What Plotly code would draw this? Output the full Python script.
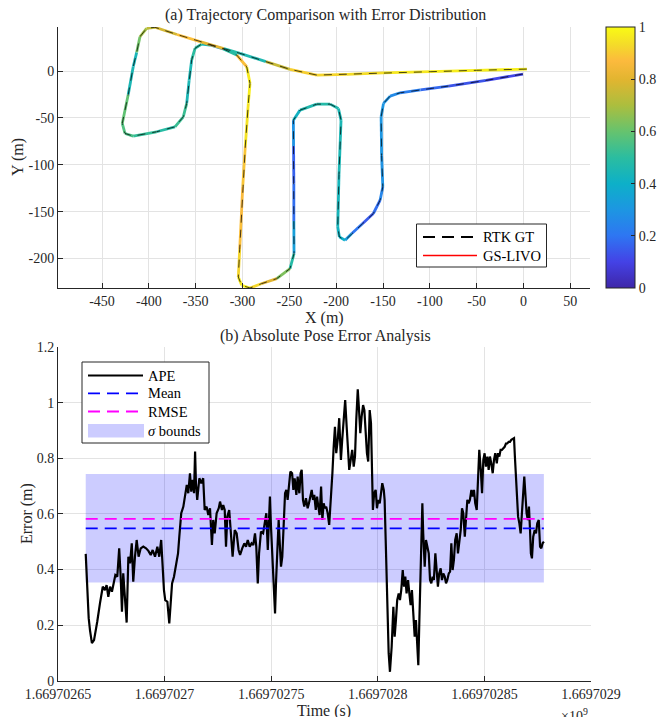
import plotly.graph_objects as go
from plotly.colors import sample_colorscale

W, H = 662, 717
FONT = "Liberation Serif, Times New Roman, serif"
TXT = "#262626"

# ---------------- (a) trajectory data ----------------
traj_x = [-0.6, -40, -80, -110, -131.7, -142.4, -149.5, -152, -151.5, -150.2,
          -153.1, -160.3, -172, -183.3, -190.5, -196.6, -198.3, -197, -194.8, -197.6,
          -206.5, -220.7, -238.6, -245.7, -245.5, -245.2, -245.2, -245, -249.3, -263.5,
          -280, -292, -300.9, -304.5, -303, -301.5, -299.8, -297, -293.8, -292,
          -295.5, -306.2, -320.5, -334.7, -343.6, -350.7, -354.3, -357, -359.6, -363.2,
          -372.1, -391.7, -416.7, -425.5, -428.4, -422, -416.7, -413, -409.5, -402.4,
          -393.5, -370, -345.4, -320, -302.7, -275, -249.3, -220.7, -188.7, -150,
          -99.7, -50, 3.6]
traj_y = [-3.2, -10, -16, -20, -23.2, -26.7, -34.5, -48.8, -90, -123.6,
          -137.8, -152, -163, -173.4, -180.6, -177, -166.3, -110, -52.4, -39.9,
          -35.3, -35.3, -41.7, -52.4, -80, -120, -160, -194.8, -210.8, -221.5,
          -227, -231.5, -228.6, -219.8, -190, -160, -123.6, -80, -34.5, -13.1,
          4.6, 17.1, 23.5, 27.8, 28.8, 24.3, 11.8, -10, -34.5, -48.8,
          -59.5, -64.8, -69.4, -66.6, -55.9, -25, 4.6, 20, 36.6, 45.6,
          46.7, 39, 31.3, 24, 18.9, 10, 1.8, -4.3, -3.5, -2,
          -0.7, 0.8, 2.1]
traj_err = [0.1, 0.12, 0.15, 0.2, 0.25, 0.28, 0.3, 0.3, 0.3, 0.28,
            0.22, 0.15, 0.15, 0.25, 0.38, 0.42, 0.42, 0.45, 0.45, 0.45,
            0.48, 0.48, 0.45, 0.38, 0.2, 0.12, 0.25, 0.42, 0.55, 0.72,
            0.88, 0.97, 0.97, 0.96, 0.88, 0.88, 0.85, 0.93, 0.97, 0.97,
            0.96, 0.8, 0.2, 0.4, 0.5, 0.5, 0.5, 0.4, 0.5, 0.55,
            0.5, 0.48, 0.55, 0.55, 0.58, 0.6, 0.3, 0.58, 0.65, 0.72,
            0.75, 0.8, 0.96, 0.65, 0.32, 0.6, 0.9, 0.92, 0.92, 0.95,
            0.97, 0.97, 0.98]
gt_x = list(traj_x)
gt_y = list(traj_y)

xa_ticks = [-450, -400, -350, -300, -250, -200, -150, -100, -50, 0, 50]
xa_labels = ["-450", "-400", "-350", "-300", "-250", "-200", "-150", "-100", "-50", "0", "50"]
ya_ticks = [-200, -150, -100, -50, 0]
ya_labels = ["-200", "-150", "-100", "-50", "0"]
cb_ticks = [0, 0.2, 0.4, 0.6, 0.8, 1]
cb_labels = ["0", "0.2", "0.4", "0.6", "0.8", "1"]

# ---------------- (b) APE data ----------------
t0 = 1669702650
ape_t = [13.0, 13.7, 14.4, 15.0, 15.9, 16.9, 17.8, 18.4, 19.7, 21.0,
         22.0, 22.8, 23.6, 24.4, 25.3, 25.9, 26.9, 27.8, 28.7, 29.4,
         30.0, 30.6, 31.4, 32.2, 33.0, 33.8, 34.6, 35.3, 36.1, 36.9,
         37.8, 38.8, 40.0, 41.3, 42.4, 43.5, 44.4, 45.5, 46.6, 47.5,
         48.4, 49.1, 49.7, 50.3, 51.3, 52.2, 52.9, 53.5, 54.4, 55.3,
         56.3, 56.9, 57.8, 58.8, 59.7, 60.4, 61.1, 61.9, 62.5, 63.2,
         63.8, 64.3, 64.7, 65.3, 66.3, 67.2, 68.1, 68.8, 69.7, 70.5,
         71.3, 72.2, 72.8, 73.5, 74.4, 75.4, 76.0, 76.9, 77.5, 78.2,
         78.8, 79.4, 80.3, 81.0, 81.9, 82.9, 83.8, 84.7, 85.4, 86.4,
         87.4, 88.2, 89.0, 89.9, 90.8, 91.6, 92.4, 93.0, 93.7, 94.3,
         95.2, 96.2, 97.1, 97.7, 98.4, 99.0, 99.4, 99.9, 100.5, 101.2,
         101.8, 102.3, 102.9, 103.5, 104.1, 104.6, 105.2, 106.0, 106.5, 107.1,
         107.7, 108.3, 109.0, 109.8, 110.4, 111.0, 111.8, 112.4, 113.2, 113.8,
         114.3, 114.9, 115.5, 116.3, 117.1, 117.7, 118.3, 119.0, 119.6, 120.2,
         120.9, 121.5, 122.1, 122.7, 123.4, 124.0, 124.6, 125.2, 125.8, 126.5,
         127.2, 128.0, 128.7, 129.3, 129.9, 130.5, 131.2, 131.9, 132.7, 133.3,
         134.1, 134.7, 135.4, 136.0, 136.6, 137.3, 138.0, 138.7, 139.3, 139.9,
         140.6, 141.2, 141.8, 142.4, 143.1, 143.7, 144.3, 144.9, 145.5, 146.2,
         146.8, 147.3, 147.7, 148.3, 149.0, 149.6, 150.2, 150.9, 151.5, 152.1,
         152.8, 153.2, 153.7, 154.2, 154.6, 155.1, 155.7, 156.5, 157.3, 157.9,
         158.5, 159.1, 159.8, 160.4, 161.0, 161.7, 162.3, 162.9, 163.5, 164.2,
         164.8, 165.4, 166.0, 166.6, 167.3, 167.9, 168.5, 169.0, 169.5, 169.9,
         170.4, 170.9, 171.3, 172.0, 172.6, 173.2, 173.9, 174.5, 175.1, 175.7,
         176.3, 177.0, 177.6, 178.2, 178.8, 179.5, 180.1, 180.7, 181.4, 182.0,
         182.6, 183.3, 183.9, 184.5, 185.1, 185.7, 186.3, 187.0, 187.6, 188.2,
         188.9, 189.5, 190.1, 190.8, 191.4, 192.0, 192.6, 193.2, 193.9, 194.5,
         195.1, 195.7, 196.4, 197.0, 197.6, 198.3, 198.9, 199.5, 200.1, 200.7,
         201.4, 202.0, 202.6, 203.2, 203.9, 204.5, 205.1, 205.8, 206.4, 207.0,
         207.6, 208.2, 208.9, 209.5, 210.1, 210.7, 211.4, 212.0, 212.6, 213.3,
         213.9, 214.3, 214.8, 215.3, 215.8, 216.4, 217.0, 217.6, 218.2, 218.7,
         219.2, 219.8, 220.4, 220.9, 221.4, 221.8, 222.3, 222.9, 223.6, 224.2,
         224.8, 225.5, 226.1, 226.7, 227.3, 227.9]
ape_v = [.456, .302, .225, .182, .135, .146, .182, .212, .279, .338,
         .326, .344, .302, .338, .320, .344, .380, .374, .476, .374,
         .248, .386, .278, .209, .446, .422, .494, .356, .446, .506,
         .446, .476, .482, .476, .467, .452, .470, .446, .482, .446,
         .506, .398, .326, .290, .284, .206, .302, .350, .374, .422,
         .458, .518, .602, .626, .662, .704, .674, .746, .680, .722,
         .674, .824, .710, .650, .728, .710, .728, .614, .626, .596,
         .620, .488, .578, .530, .602, .620, .644, .614, .632, .614,
         .482, .590, .614, .542, .446, .542, .530, .470, .452, .476,
         .494, .482, .506, .482, .494, .488, .530, .482, .350, .458,
         .536, .530, .584, .602, .470, .578, .662, .554, .458, .338,
         .242, .362, .506, .578, .482, .410, .446, .578, .674, .686,
         .650, .698, .752, .746, .686, .728, .668, .734, .674, .746,
         .758, .650, .626, .656, .620, .638, .668, .686, .650, .668,
         .614, .662, .626, .596, .698, .578, .638, .620, .626, .602,
         .560, .650, .746, .841, .913, .818, .866, .944, .794, .866,
         .938, 1.009, .913, .806, .758, .794, .830, .770, .806, .938,
         1.048, .973, .890, .949, .991, .973, .890, .818, .788, .973,
         .926, .782, .614, .674, .686, .620, .650, .638, .686, .710,
         .686, .650, .506, .362, .218, .099, .032, .122, .266, .158,
         .218, .290, .314, .290, .326, .398, .338, .374, .314, .362,
         .314, .272, .326, .254, .158, .218, .146, .056, .218, .374,
         .518, .638, .530, .410, .506, .482, .458, .362, .350, .374,
         .362, .458, .374, .338, .386, .404, .362, .386, .374, .350,
         .362, .386, .392, .494, .398, .434, .506, .530, .458, .506,
         .542, .620, .602, .518, .602, .650, .638, .650, .686, .662,
         .686, .638, .614, .698, .830, .758, .674, .794, .818, .770,
         .806, .758, .806, .782, .746, .794, .818, .782, .818, .806,
         .830, .830, .836, .841, .853, .853, .859, .859, .866, .868,
         .872, .806, .734, .662, .590, .566, .530, .602, .698, .734,
         .674, .602, .578, .626, .542, .458, .440, .518, .542, .530,
         .566, .578, .482, .476, .494, .500]
assert len(ape_t) == len(ape_v)
ape_mean = 0.548
ape_rmse = 0.582
ape_std = 0.195

xb_ticks = [1669702650, 1669702700, 1669702750, 1669702800, 1669702850, 1669702900]
xb_labels = ["1.66970265", "1.6697027", "1.66970275", "1.6697028", "1.66970285", "1.6697029"]
yb_ticks = [0, 0.2, 0.4, 0.6, 0.8, 1.0, 1.2]
yb_labels = ["0", "0.2", "0.4", "0.6", "0.8", "1", "1.2"]

parula = [
    [0.0, "rgb(62,38,168)"], [0.1, "rgb(68,66,230)"], [0.2, "rgb(46,118,242)"],
    [0.3, "rgb(29,150,226)"], [0.4, "rgb(13,176,200)"], [0.5, "rgb(43,189,160)"],
    [0.6, "rgb(102,195,110)"], [0.7, "rgb(172,190,62)"], [0.8, "rgb(226,181,48)"],
    [0.87, "rgb(252,186,61)"], [0.93, "rgb(244,218,42)"], [1.0, "rgb(249,251,20)"],
]

fig = go.Figure()

# ---- (a) colored estimated trajectory ----
for i in range(len(traj_x) - 1):
    c = sample_colorscale(parula, [(traj_err[i] + traj_err[i + 1]) / 2])[0]
    fig.add_trace(go.Scatter(x=[traj_x[i], traj_x[i + 1]], y=[traj_y[i], traj_y[i + 1]],
                             mode="lines", line=dict(color=c, width=2.8),
                             showlegend=False, hoverinfo="skip", xaxis="x", yaxis="y"))
fig.add_trace(go.Scatter(x=gt_x, y=gt_y, mode="lines", name="RTK GT", showlegend=False,
                         line=dict(color="rgba(0,0,0,0.7)", width=1, dash="8px,7px"),
                         xaxis="x", yaxis="y"))
fig.add_trace(go.Scatter(
    x=[traj_x[0]], y=[traj_y[0]], mode="markers", showlegend=False, hoverinfo="skip",
    marker=dict(size=1, opacity=0, color=[0.5], cmin=0, cmax=1, colorscale=parula, showscale=True,
                colorbar=dict(x=606 / W, xanchor="left", y=1 - 27 / H, yanchor="top",
                              len=261 / H, lenmode="fraction", thickness=29, thicknessmode="pixels",
                              outlinewidth=1, outlinecolor=TXT, ticks="inside", ticklen=4,
                              tickcolor=TXT, tickvals=cb_ticks, ticktext=cb_labels,
                              tickfont=dict(family=FONT, size=14, color=TXT), xpad=0, ypad=0)),
    xaxis="x", yaxis="y"))

# ---- (b) APE ----
tb0 = t0 + ape_t[0]
tb1 = t0 + ape_t[-1]
fig.add_trace(go.Scatter(x=[tb0, tb1, tb1, tb0, tb0],
                         y=[ape_mean - ape_std, ape_mean - ape_std, ape_mean + ape_std,
                            ape_mean + ape_std, ape_mean - ape_std],
                         fill="toself", fillcolor="rgba(0,0,255,0.2)", mode="lines",
                         line=dict(width=0, color="rgba(0,0,255,0)"), showlegend=False,
                         xaxis="x2", yaxis="y2", hoverinfo="skip"))
fig.add_trace(go.Scatter(x=[t0 + t for t in ape_t], y=ape_v, mode="lines", name="APE",
                         line=dict(color="black", width=2.2), showlegend=False,
                         xaxis="x2", yaxis="y2"))
fig.add_trace(go.Scatter(x=[tb0, tb1], y=[ape_mean, ape_mean], mode="lines", name="Mean",
                         line=dict(color="blue", width=1.8, dash="12px,7px"), showlegend=False,
                         xaxis="x2", yaxis="y2"))
fig.add_trace(go.Scatter(x=[tb0, tb1], y=[ape_rmse, ape_rmse], mode="lines", name="RMSE",
                         line=dict(color="magenta", width=1.8, dash="12px,7px"), showlegend=False,
                         xaxis="x2", yaxis="y2"))

axis_common = dict(showline=True, linecolor=TXT, linewidth=1, mirror=False, ticks="inside",
                   ticklen=5, tickcolor=TXT, showgrid=True, gridcolor="#e3e3e3", gridwidth=1,
                   zeroline=False, tickfont=dict(family=FONT, size=14, color=TXT))


def px(x):
    return x / W


def py(y):
    return 1 - y / H


tfont = dict(family=FONT, size=16, color=TXT)
lfont = dict(family=FONT, size=14.5, color="black")
ann = [
    dict(text="(a) Trajectory Comparison with Error Distribution", x=px(325), y=py(15), font=tfont),
    dict(text="X (m)", x=px(324), y=py(318), font=tfont),
    dict(text="Y (m)", x=px(18), y=py(157), textangle=-90, font=tfont),
    dict(text="(b) Absolute Pose Error Analysis", x=px(325), y=py(336), font=tfont),
    dict(text="Error (m)", x=px(27), y=py(514), textangle=-90, font=tfont),
    dict(text="Time (s)", x=px(324), y=py(711), font=tfont),
    dict(text="×10<sup>9</sup>", x=px(590), y=py(704), xanchor="right", yanchor="top",
         font=dict(family=FONT, size=14, color=TXT)),
    # legend (a)
    dict(text="RTK GT", x=px(481), y=py(237), xanchor="left", font=lfont),
    dict(text="GS-LIVO", x=px(481), y=py(255.5), xanchor="left", font=lfont),
    # legend (b)
    dict(text="APE", x=px(146), y=py(375.5), xanchor="left", font=lfont),
    dict(text="Mean", x=px(146), y=py(393.3), xanchor="left", font=lfont),
    dict(text="RMSE", x=px(146), y=py(411.5), xanchor="left", font=lfont),
    dict(text="<i>σ</i> bounds", x=px(146), y=py(430.5), xanchor="left", font=lfont),
]
annotations = []
for a in ann:
    d = dict(xref="paper", yref="paper", showarrow=False, xanchor="center", yanchor="middle")
    d.update(a)
    annotations.append(d)

S = dict(xref="paper", yref="paper", layer="above")
shapes = [
    # legend (a) box and samples
    dict(type="rect", x0=px(416.5), x1=px(546.5), y0=py(267), y1=py(224),
         fillcolor="white", line=dict(color=TXT, width=1), **S),
    dict(type="line", x0=px(423), x1=px(477), y0=py(237), y1=py(237),
         line=dict(color="black", width=1.8, dash="12px,7px"), **S),
    dict(type="line", x0=px(423), x1=px(477), y0=py(255.5), y1=py(255.5),
         line=dict(color="red", width=1.5), **S),
    # legend (b) box and samples
    dict(type="rect", x0=px(82), x1=px(209), y0=py(443), y1=py(362),
         fillcolor="white", line=dict(color=TXT, width=1), **S),
    dict(type="line", x0=px(88), x1=px(143), y0=py(375.5), y1=py(375.5),
         line=dict(color="black", width=2), **S),
    dict(type="line", x0=px(88), x1=px(143), y0=py(393.3), y1=py(393.3),
         line=dict(color="blue", width=1.8, dash="12px,7px"), **S),
    dict(type="line", x0=px(88), x1=px(143), y0=py(411.5), y1=py(411.5),
         line=dict(color="magenta", width=1.8, dash="12px,7px"), **S),
    dict(type="rect", x0=px(88), x1=px(144), y0=py(437.5), y1=py(424),
         fillcolor="rgba(0,0,255,0.2)", line=dict(width=0), **S),
]

fig.update_layout(
    width=W, height=H, margin=dict(l=0, r=0, t=0, b=0, autoexpand=False),
    paper_bgcolor="white", plot_bgcolor="white",
    font=dict(family=FONT, size=14, color=TXT),
    xaxis=dict(domain=[px(58), px(590)], range=[-497, 71], tickvals=xa_ticks, ticktext=xa_labels,
               anchor="y", **axis_common),
    yaxis=dict(domain=[py(288), py(27)], range=[-231.5, 47], tickvals=ya_ticks,
               ticktext=ya_labels, anchor="x", **axis_common),
    xaxis2=dict(domain=[px(58), px(591)], range=[1669702650, 1669702900], tickvals=xb_ticks,
                ticktext=xb_labels, anchor="y2", **axis_common),
    yaxis2=dict(domain=[py(680.7), py(347)], range=[0, 1.2], tickvals=yb_ticks,
                ticktext=yb_labels, anchor="x2", **axis_common),
    annotations=annotations,
    shapes=shapes,
    showlegend=False,
)

fig.write_html("out.html", config={"displayModeBar": False},
               post_script="document.body.style.margin='0';document.body.style.overflow='hidden';")
